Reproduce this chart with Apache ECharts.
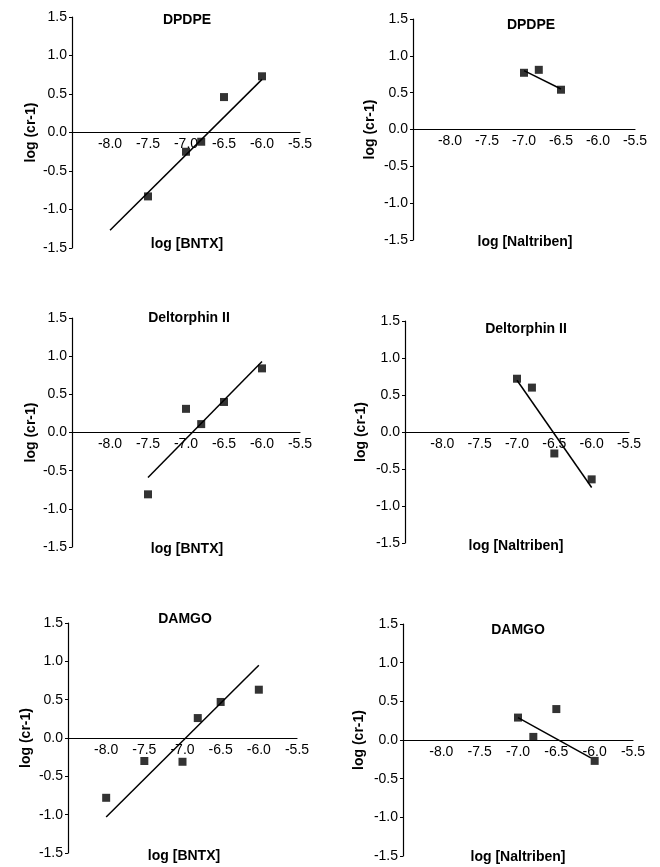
<!DOCTYPE html>
<html>
<head>
<meta charset="utf-8">
<script src="https://cdn.jsdelivr.net/npm/echarts@6/dist/echarts.min.js"></script>
<style>
html, body { margin: 0; padding: 0; background: #fff; }
#main { width: 660px; height: 867px; }
</style>
</head>
<body>
<div id="main"></div>
<script>
// tick labels shared by all six panels
var xTicks = [-8.0, -7.5, -7.0, -6.5, -6.0, -5.5];
var yTicks = [-1.5, -1.0, -0.5, 0.0, 0.5, 1.0, 1.5];

var panelTitles = ['DPDPE', 'DPDPE', 'Deltorphin II', 'Deltorphin II', 'DAMGO', 'DAMGO'];
var xNames = ['log [BNTX]', 'log [Naltriben]', 'log [BNTX]', 'log [Naltriben]', 'log [BNTX]', 'log [Naltriben]'];
var yName = 'log (cr-1)';

// DPDPE / BNTX
var dpdpeBntxX = [-7.5, -7.0, -6.8, -6.5, -6.0];
var dpdpeBntxY = [-0.83, -0.25, -0.12, 0.46, 0.73];
var dpdpeBntxFitX = [-8.0, -6.0];
var dpdpeBntxFitY = [-1.27, 0.69];

// DPDPE / Naltriben
var dpdpeNtbX = [-7.0, -6.8, -6.5];
var dpdpeNtbY = [0.77, 0.81, 0.54];
var dpdpeNtbFitX = [-7.0, -6.5];
var dpdpeNtbFitY = [0.80, 0.55];

// Deltorphin II / BNTX
var deltBntxX = [-7.5, -7.0, -6.8, -6.5, -6.0];
var deltBntxY = [-0.81, 0.31, 0.11, 0.40, 0.84];
var deltBntxFitX = [-7.5, -6.0];
var deltBntxFitY = [-0.59, 0.93];

// Deltorphin II / Naltriben
var deltNtbX = [-7.0, -6.8, -6.5, -6.0];
var deltNtbY = [0.72, 0.60, -0.29, -0.64];
var deltNtbFitX = [-7.0, -6.0];
var deltNtbFitY = [0.70, -0.75];

// DAMGO / BNTX
var damgoBntxX = [-8.0, -7.5, -7.0, -6.8, -6.5, -6.0];
var damgoBntxY = [-0.78, -0.30, -0.31, 0.26, 0.47, 0.63];
var damgoBntxFitX = [-8.0, -6.0];
var damgoBntxFitY = [-1.03, 0.95];

// DAMGO / Naltriben
var damgoNtbX = [-7.0, -6.8, -6.5, -6.0];
var damgoNtbY = [0.29, 0.04, 0.40, -0.27];
var damgoNtbFitX = [-7.0, -6.05];
var damgoNtbFitY = [0.29, -0.23];

var panels = [
    { x: dpdpeBntxX, y: dpdpeBntxY, fx: dpdpeBntxFitX, fy: dpdpeBntxFitY },
    { x: dpdpeNtbX, y: dpdpeNtbY, fx: dpdpeNtbFitX, fy: dpdpeNtbFitY },
    { x: deltBntxX, y: deltBntxY, fx: deltBntxFitX, fy: deltBntxFitY },
    { x: deltNtbX, y: deltNtbY, fx: deltNtbFitX, fy: deltNtbFitY },
    { x: damgoBntxX, y: damgoBntxY, fx: damgoBntxFitX, fy: damgoBntxFitY },
    { x: damgoNtbX, y: damgoNtbY, fx: damgoNtbFitX, fy: damgoNtbFitY }
];

// layout of each panel (pixels)
var grids = [
    { left: 72, top: 17, width: 228, height: 231 },
    { left: 413, top: 19, width: 222, height: 221 },
    { left: 72, top: 318, width: 228, height: 229 },
    { left: 405, top: 321, width: 224, height: 222 },
    { left: 68, top: 623, width: 229, height: 230 },
    { left: 403, top: 624, width: 230, height: 232 }
];
var titlePos = [[187, 13], [531, 18], [189, 311], [526, 322], [185, 612], [518, 623]];
var xNamePos = [[187, 237], [525, 235], [187, 542], [516, 539], [184, 849], [518, 850]];
var yNameGap = [34, 36, 34, 37, 35, 37];

var font = 'Liberation Sans';

function pairs(xs, ys) {
    var out = [];
    for (var i = 0; i < xs.length; i++) out.push([xs[i], ys[i]]);
    return out;
}

function hasTick(list, v) {
    for (var i = 0; i < list.length; i++) {
        if (Math.abs(list[i] - v) < 1e-6) return true;
    }
    return false;
}

var option = {
    backgroundColor: '#fff',
    animation: false,
    title: [],
    grid: [],
    xAxis: [],
    yAxis: [],
    series: []
};

for (var i = 0; i < 6; i++) {
    option.grid.push(grids[i]);

    option.title.push({
        text: panelTitles[i],
        left: titlePos[i][0],
        top: titlePos[i][1],
        textAlign: 'center',
        padding: 0,
        textStyle: { fontFamily: font, fontSize: 14, fontWeight: 'bold', color: '#000' }
    });
    option.title.push({
        text: xNames[i],
        left: xNamePos[i][0],
        top: xNamePos[i][1],
        textAlign: 'center',
        padding: 0,
        textStyle: { fontFamily: font, fontSize: 14, fontWeight: 'bold', color: '#000' }
    });

    // x axis sits on y = 0, i.e. half way up the grid
    option.xAxis.push({
        gridIndex: i,
        type: 'value',
        min: -8.5,
        max: -5.5,
        interval: 0.5,
        position: 'bottom',
        offset: -grids[i].height / 2,
        axisLine: { onZero: false, lineStyle: { color: '#000', width: 1.2 } },
        axisTick: { show: false },
        splitLine: { show: false },
        axisLabel: {
            color: '#000',
            fontFamily: font,
            fontSize: 14,
            margin: 5,
            formatter: function (v) {
                return hasTick(xTicks, v) ? v.toFixed(1) : '';
            }
        }
    });

    option.yAxis.push({
        gridIndex: i,
        type: 'value',
        min: -1.5,
        max: 1.5,
        interval: 0.5,
        name: yName,
        nameLocation: 'middle',
        nameGap: yNameGap[i],
        nameTextStyle: { fontFamily: font, fontSize: 14, fontWeight: 'bold', color: '#000' },
        axisLine: { onZero: false, lineStyle: { color: '#000', width: 1.2 } },
        axisTick: { show: true, length: 3, lineStyle: { color: '#000' } },
        splitLine: { show: false },
        axisLabel: {
            color: '#000',
            fontFamily: font,
            fontSize: 14,
            margin: 5,
            formatter: function (v) {
                return hasTick(yTicks, v) ? v.toFixed(1) : '';
            }
        }
    });

    // fitted line
    option.series.push({
        type: 'line',
        xAxisIndex: i,
        yAxisIndex: i,
        showSymbol: false,
        symbol: 'none',
        lineStyle: { color: '#000', width: 1.5 },
        data: pairs(panels[i].fx, panels[i].fy),
        z: 2
    });
    // measured points
    option.series.push({
        type: 'scatter',
        xAxisIndex: i,
        yAxisIndex: i,
        symbol: 'rect',
        symbolSize: 8,
        itemStyle: { color: '#000' },
        data: pairs(panels[i].x, panels[i].y),
        z: 3
    });
}

var myChart = echarts.init(document.getElementById('main'));
myChart.setOption(option);
</script>
</body>
</html>
